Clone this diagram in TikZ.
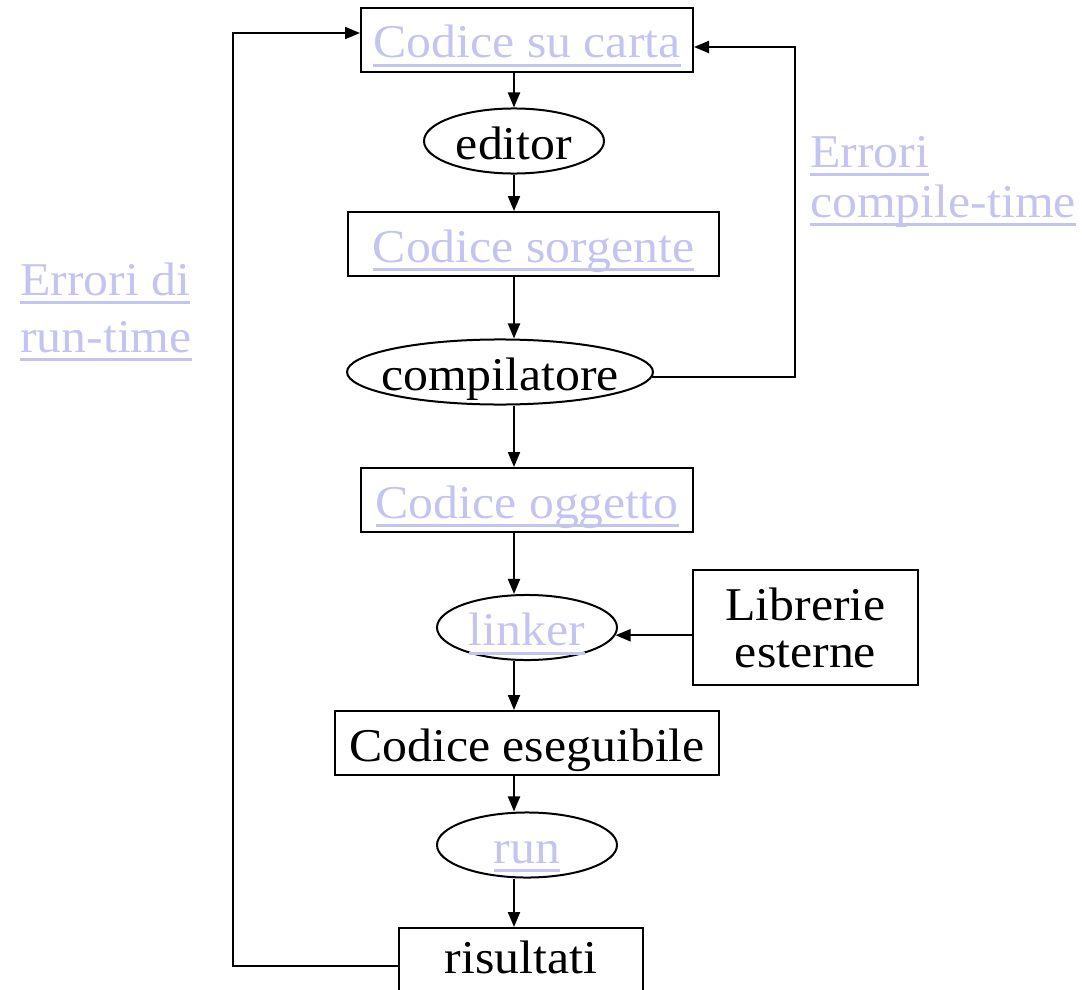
\documentclass[tikz,border=0pt]{standalone}
\usepackage{fontspec}
\setmainfont{Liberation Serif}[FakeStretch=1.06]
\usetikzlibrary{arrows.meta,shapes.geometric}

\definecolor{linkc}{RGB}{196,196,240}

% hyperlink-style text: underline at a fixed depth below the baseline
\newsavebox\lnkbox
\newcommand\lnk[1]{\sbox\lnkbox{#1}\rlap{\vrule height -6pt depth 9pt width \wd\lnkbox}\usebox\lnkbox}

\tikzset{
  base/.style={draw=black, line width=2pt, inner sep=0pt,
    font=\fontsize{47}{52}\selectfont, text height=41pt, text depth=5pt},
  box/.style={base, rectangle, minimum height=64pt},
  oval/.style={base, ellipse, minimum height=64pt},
  link/.style={text=linkc},
  note/.style={inner sep=0pt, anchor=base west, text=linkc,
    font=\fontsize{47}{52}\selectfont},
  arr/.style={line width=2pt, -{Triangle[length=15pt,width=12pt]}}
}

\begin{document}
\begin{tikzpicture}[x=1pt,y=-1pt]
\useasboundingbox (0,0) rectangle (1082,990);

% main chain
\node[box, link, minimum width=332pt] (carta)    at (527,40)    {\lnk{Codice su carta}};
\node[oval, minimum width=180pt]       (editor)   at (514,141)   {\makebox[0pt]{editor}};
\node[box, link, minimum width=371pt] (sorg)     at (533.5,244) {\lnk{Codice sorgente}};
\node[oval, minimum width=306pt]       (comp)     at (500,372)   {\makebox[0pt]{compilatore}};
\node[box, link, minimum width=332pt] (ogg)      at (527,500)   {\lnk{Codice oggetto}};
\node[oval, link, minimum width=180pt] (linker)  at (527,627.5) {\makebox[0pt]{\lnk{linker}}};
\node[box, minimum width=384pt]        (eseg)     at (527,743)   {Codice eseguibile};
\node[oval, link, minimum width=180pt] (run)     at (527,845)   {\makebox[0pt]{\lnk{run}}};
\node[box, minimum width=244pt, text height=36pt, text depth=10pt]
                                       (ris)      at (521,960)   {risultati};

% external libraries
\node[base, rectangle, align=center, text height=, text depth=,
      minimum width=225pt, minimum height=115pt,
      font=\fontsize{47}{47}\selectfont] (lib) at (805.5,627.5) {Librerie\\esterne};

% side notes
\node[note] (ct1) at (810,167) {\lnk{Errori}};
\node[note] (ct2) at (810,217) {\lnk{compile-time}};
\node[note] (rt1) at (20,295)  {\lnk{Errori di}};
\node[note] (rt2) at (20,352)  {\lnk{run-time}};

% spine and return columns
\coordinate (spine) at (514,0);
\coordinate (rx) at (795,0);
\coordinate (lx) at (233,0);

\draw[arr] (carta.south -| spine)  -- (editor.north -| spine);
\draw[arr] (editor.south -| spine) -- (sorg.north -| spine);
\draw[arr] (sorg.south -| spine)   -- (comp.north -| spine);
\draw[arr] (comp.south -| spine)   -- (ogg.north -| spine);
\draw[arr] (ogg.south -| spine)    -- (linker.north -| spine);
\draw[arr] (linker.south -| spine) -- (eseg.north -| spine);
\draw[arr] (eseg.south -| spine)   -- (run.north -| spine);
\draw[arr] (run.south -| spine)    -- (ris.north -| spine);

\draw[arr] (lib.west |- linker.-5) -- (linker.-5);

% compile-time loop
\draw[arr] (comp.-2.5) -- (comp.-2.5 -| rx) |- ([yshift=-7pt]carta.east);
% run-time loop
\draw[arr] ([yshift=-6pt]ris.west) -- ([yshift=-6pt]ris.west -| lx) |- ([yshift=7pt]carta.west);
\end{tikzpicture}
\end{document}
